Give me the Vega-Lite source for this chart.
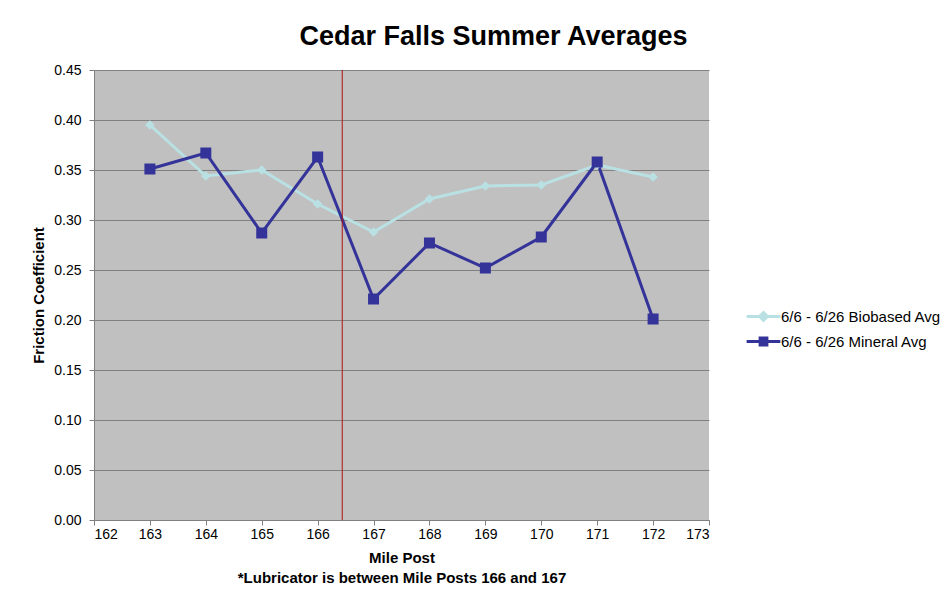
{
  "$schema": "https://vega.github.io/schema/vega-lite/v6.json",
  "width": 615,
  "height": 450,
  "autosize": {"type": "none"},
  "padding": {"left": 94, "top": 70, "right": 236, "bottom": 80},
  "background": "white",
  "config": {
    "font": "Liberation Sans",
    "view": {"fill": "#C0C0C0", "stroke": null},
    "axis": {"labelFont": "Liberation Sans", "labelFontSize": 14, "labelColor": "black", "titleFont": "Liberation Sans", "titleFontSize": 15, "titleFontWeight": "bold", "titleColor": "black", "domainColor": "#808080", "tickColor": "#808080", "gridColor": "#808080", "gridOpacity": 1}
  },
  "title": {"text": "Cedar Falls Summer Averages", "font": "Liberation Sans", "fontSize": 27, "fontWeight": "bold", "color": "black", "anchor": "middle", "dx": 92, "offset": 12},
  "datasets": {
    "friction": [
      {"mile": 163, "series": "6/6 - 6/26 Biobased Avg", "cof": 0.395},
      {"mile": 164, "series": "6/6 - 6/26 Biobased Avg", "cof": 0.344},
      {"mile": 165, "series": "6/6 - 6/26 Biobased Avg", "cof": 0.350},
      {"mile": 166, "series": "6/6 - 6/26 Biobased Avg", "cof": 0.316},
      {"mile": 167, "series": "6/6 - 6/26 Biobased Avg", "cof": 0.288},
      {"mile": 168, "series": "6/6 - 6/26 Biobased Avg", "cof": 0.321},
      {"mile": 169, "series": "6/6 - 6/26 Biobased Avg", "cof": 0.334},
      {"mile": 170, "series": "6/6 - 6/26 Biobased Avg", "cof": 0.335},
      {"mile": 171, "series": "6/6 - 6/26 Biobased Avg", "cof": 0.355},
      {"mile": 172, "series": "6/6 - 6/26 Biobased Avg", "cof": 0.343},
      {"mile": 163, "series": "6/6 - 6/26 Mineral Avg", "cof": 0.351},
      {"mile": 164, "series": "6/6 - 6/26 Mineral Avg", "cof": 0.367},
      {"mile": 165, "series": "6/6 - 6/26 Mineral Avg", "cof": 0.287},
      {"mile": 166, "series": "6/6 - 6/26 Mineral Avg", "cof": 0.363},
      {"mile": 167, "series": "6/6 - 6/26 Mineral Avg", "cof": 0.221},
      {"mile": 168, "series": "6/6 - 6/26 Mineral Avg", "cof": 0.277},
      {"mile": 169, "series": "6/6 - 6/26 Mineral Avg", "cof": 0.252},
      {"mile": 170, "series": "6/6 - 6/26 Mineral Avg", "cof": 0.283},
      {"mile": 171, "series": "6/6 - 6/26 Mineral Avg", "cof": 0.358},
      {"mile": 172, "series": "6/6 - 6/26 Mineral Avg", "cof": 0.201}
    ],
    "lubricator": [{"lub": 166.44}]
  },
  "layer": [
    {
      "data": {"name": "friction"},
      "mark": {"type": "point", "filled": true, "opacity": 0, "strokeWidth": 3},
      "encoding": {
        "x": {"field": "mile", "type": "quantitative", "scale": {"domain": [162, 173], "nice": false, "zero": false},
              "axis": {"title": ["Mile Post", "*Lubricator is between Mile Posts 166 and 167"], "values": [162,163,164,165,166,167,168,169,170,171,172,173], "format": "d", "grid": false, "tickSize": 5, "labelPadding": 2, "titlePadding": 9, "titleLineHeight": 20}},
        "y": {"field": "cof", "type": "quantitative", "scale": {"domain": [0, 0.45], "nice": false},
              "axis": {"title": "Friction Coefficient", "values": [0,0.05,0.1,0.15,0.2,0.25,0.3,0.35,0.4,0.45], "format": ".2f", "grid": true, "tickSize": 5, "labelPadding": 8, "titlePadding": 7}},
        "color": {"field": "series", "type": "nominal", "scale": {"domain": ["6/6 - 6/26 Biobased Avg", "6/6 - 6/26 Mineral Avg"], "range": ["#B9E1E4", "#333399"]},
                  "legend": {"title": null, "orient": "none", "legendX": 655, "legendY": 232, "labelFont": "Liberation Sans", "labelFontSize": 15, "labelColor": "black", "rowPadding": 0, "labelOffset": 3, "symbolSize": 676, "symbolStrokeWidth": 3, "symbolOpacity": 1, "padding": 0}},
        "shape": {"field": "series", "type": "nominal",
                  "scale": {"domain": ["6/6 - 6/26 Biobased Avg", "6/6 - 6/26 Mineral Avg"], "range": ["M-1.3,0H1.3M0,-0.3L0.3,0L0,0.3L-0.3,0Z", "M-1.3,0H1.3M-0.26,-0.26H0.26V0.26H-0.26Z"]},
                  "legend": {"title": null, "orient": "none", "legendX": 655, "legendY": 232, "labelFont": "Liberation Sans", "labelFontSize": 15, "labelColor": "black", "rowPadding": 0, "labelOffset": 3, "symbolSize": 676, "symbolStrokeWidth": 3, "symbolOpacity": 1, "padding": 0}},
        "stroke": {"field": "series", "type": "nominal",
                  "scale": {"domain": ["6/6 - 6/26 Biobased Avg", "6/6 - 6/26 Mineral Avg"], "range": ["#B9E1E4", "#333399"]},
                  "legend": {"title": null, "orient": "none", "legendX": 655, "legendY": 232, "labelFont": "Liberation Sans", "labelFontSize": 15, "labelColor": "black", "rowPadding": 0, "labelOffset": 3, "symbolSize": 676, "symbolStrokeWidth": 3, "symbolOpacity": 1, "padding": 0}}
      }
    },
    {
      "data": {"name": "friction"},
      "mark": {"type": "line", "strokeWidth": 3},
      "encoding": {
        "x": {"field": "mile", "type": "quantitative"},
        "y": {"field": "cof", "type": "quantitative"},
        "color": {"field": "series", "type": "nominal", "legend": null},
        "order": {"field": "mile"}
      }
    },
    {
      "data": {"name": "friction"},
      "transform": [{"filter": "datum.series === '6/6 - 6/26 Biobased Avg'"}],
      "mark": {"type": "point", "filled": true, "opacity": 1, "shape": "diamond", "size": 90},
      "encoding": {
        "x": {"field": "mile", "type": "quantitative"},
        "y": {"field": "cof", "type": "quantitative"},
        "color": {"field": "series", "type": "nominal", "legend": null}
      }
    },
    {
      "data": {"name": "friction"},
      "transform": [{"filter": "datum.series === '6/6 - 6/26 Mineral Avg'"}],
      "mark": {"type": "point", "filled": true, "opacity": 1, "shape": "square", "size": 121},
      "encoding": {
        "x": {"field": "mile", "type": "quantitative"},
        "y": {"field": "cof", "type": "quantitative"},
        "color": {"field": "series", "type": "nominal", "legend": null}
      }
    },
    {
      "data": {"name": "lubricator"},
      "mark": {"type": "rule", "color": "#B01010", "strokeWidth": 1},
      "encoding": {"x": {"field": "lub", "type": "quantitative"}}
    }
  ]
}
